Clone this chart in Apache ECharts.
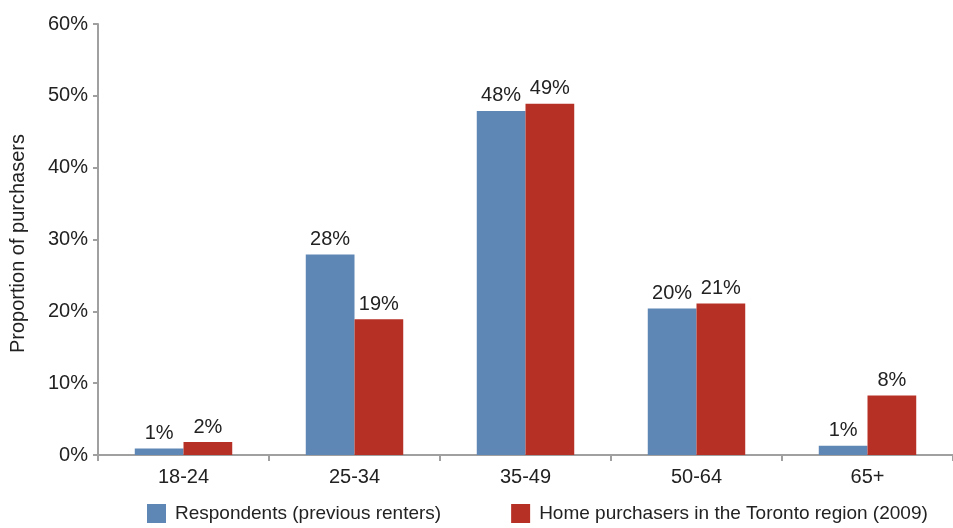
<!DOCTYPE html>
<html><head><meta charset="utf-8">
<script src="https://cdn.jsdelivr.net/npm/echarts@6/dist/echarts.min.js"></script>
<style>html,body{margin:0;padding:0;background:#fff}#c{width:953px;height:528px}</style>
</head><body><div id="c"></div>
<script>
const categories = ['18-24','25-34','35-49','50-64','65+'];
const respondents = [0.9, 27.9, 47.9, 20.4, 1.3];
const purchasers = [1.8, 18.9, 48.9, 21.1, 8.3];
const respLabels = ['1%','28%','48%','20%','1%'];
const purchLabels = ['2%','19%','49%','21%','8%'];
const seriesNames = ['Respondents (previous renters)','Home purchasers in the Toronto region (2009)'];
const FONT = "'Liberation Sans',sans-serif";
const chart = echarts.init(document.getElementById('c'));
chart.setOption({
  animation:false,
  textStyle:{fontFamily:FONT},
  grid:{left:97,right:-10,top:24,bottom:73},
  legend:{top:499,left:142,width:850,itemWidth:19,itemHeight:19,itemGap:70,icon:'rect',
    textStyle:{fontFamily:FONT,fontSize:19,lineHeight:19,color:'#222',padding:[0,0,0,4]}},
  xAxis:{type:'category',data:categories,
    axisLine:{lineStyle:{color:'#a0a0a0',width:2}},
    axisTick:{show:true,length:6,lineStyle:{color:'#a0a0a0',width:2}},
    axisLabel:{fontFamily:FONT,fontSize:20,color:'#222',margin:12}},
  yAxis:{type:'value',min:0,max:60,interval:10,
    name:'Proportion of purchasers',nameLocation:'middle',nameGap:70,
    nameTextStyle:{fontFamily:FONT,fontSize:20,color:'#222',padding:[0,0,0,-8]},
    axisLine:{show:true,lineStyle:{color:'#a0a0a0',width:2}},
    axisTick:{show:true,length:5,lineStyle:{color:'#a0a0a0',width:2}},
    splitLine:{show:false},
    axisLabel:{fontFamily:FONT,fontSize:20,color:'#222',margin:10,formatter:v=>v+'%'}},
  series:[
    {name:seriesNames[0],type:'bar',data:respondents,barGap:'0%',barCategoryGap:'43%',
     itemStyle:{color:'#5f87b5'},
     label:{show:true,position:'top',fontFamily:FONT,fontSize:20,color:'#222',distance:5,
       formatter:p=>respLabels[p.dataIndex]}},
    {name:seriesNames[1],type:'bar',data:purchasers,barGap:'0%',barCategoryGap:'43%',
     itemStyle:{color:'#b73026'},
     label:{show:true,position:'top',fontFamily:FONT,fontSize:20,color:'#222',distance:5,
       formatter:p=>purchLabels[p.dataIndex]}}
  ]
});
</script></body></html>
